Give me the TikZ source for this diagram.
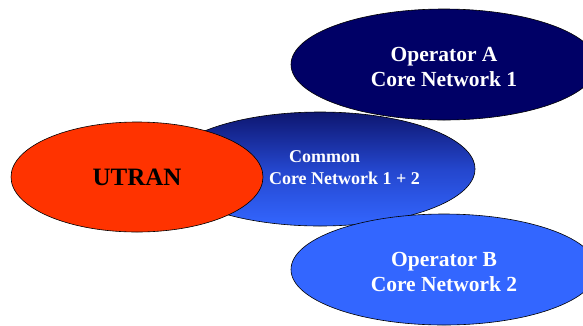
\documentclass[tikz,border=0pt]{standalone}
\usepackage{fontspec}
\setmainfont{Liberation Serif}
\usetikzlibrary{shapes.geometric}
\definecolor{OpANavy}{RGB}{0,0,102}
\definecolor{OpBBlue}{RGB}{51,102,255}
\definecolor{UtranRed}{RGB}{255,51,0}
\definecolor{CommonTop}{RGB}{14,22,112}
\definecolor{CommonMid}{RGB}{36,70,205}
\newcommand{\opw}{306pt}
\newcommand{\oph}{111pt}
\tikzset{
    netblob/.style = {ellipse,draw=black,line width=0.6pt,inner sep=0pt},
    nettext/.style = {text=white,align=center,inner sep=0pt,font=\bfseries\fontsize{21.5}{25}\selectfont},
}

\begin{document}
\begin{tikzpicture}[x=1pt,y=-1pt]
    \useasboundingbox (0,0) rectangle (583,325);    % Freeze the bounding box
    \clip (0,0) rectangle (583,325);
    % --- --- --- Common core network (lowest layer)
    \node[netblob,minimum width=310pt,minimum height=114pt,top color=CommonTop,bottom color=OpBBlue,middle color=CommonMid] (common) at (320,169) {};
    \node[nettext,align=left,font=\bfseries\fontsize{18}{22}\selectfont] (commontext) at (344.5,167.8) {\hspace*{20pt}Common\\Core Network 1 + 2};
    % --- --- --- Operator A
    \node[netblob,fill=OpANavy,minimum width=\opw,minimum height=\oph] (opA) at (444,64.5) {};
    \node[nettext] (opAtext) at ([yshift=-2.7pt]opA.center) {Operator A\\Core Network 1};
    % --- --- --- Operator B
    \node[netblob,fill=OpBBlue,minimum width=\opw,minimum height=\oph] (opB) at (444,269.5) {};
    \node[nettext] (opBtext) at ([yshift=-2.7pt]opB.center) {Operator B\\Core Network 2};
    % --- --- --- UTRAN (top layer)
    \node[netblob,fill=UtranRed,minimum width=252pt,minimum height=110pt,font=\bfseries\fontsize{25}{30}\selectfont] (utran) at (137,177) {UTRAN};
\end{tikzpicture}
\end{document}
